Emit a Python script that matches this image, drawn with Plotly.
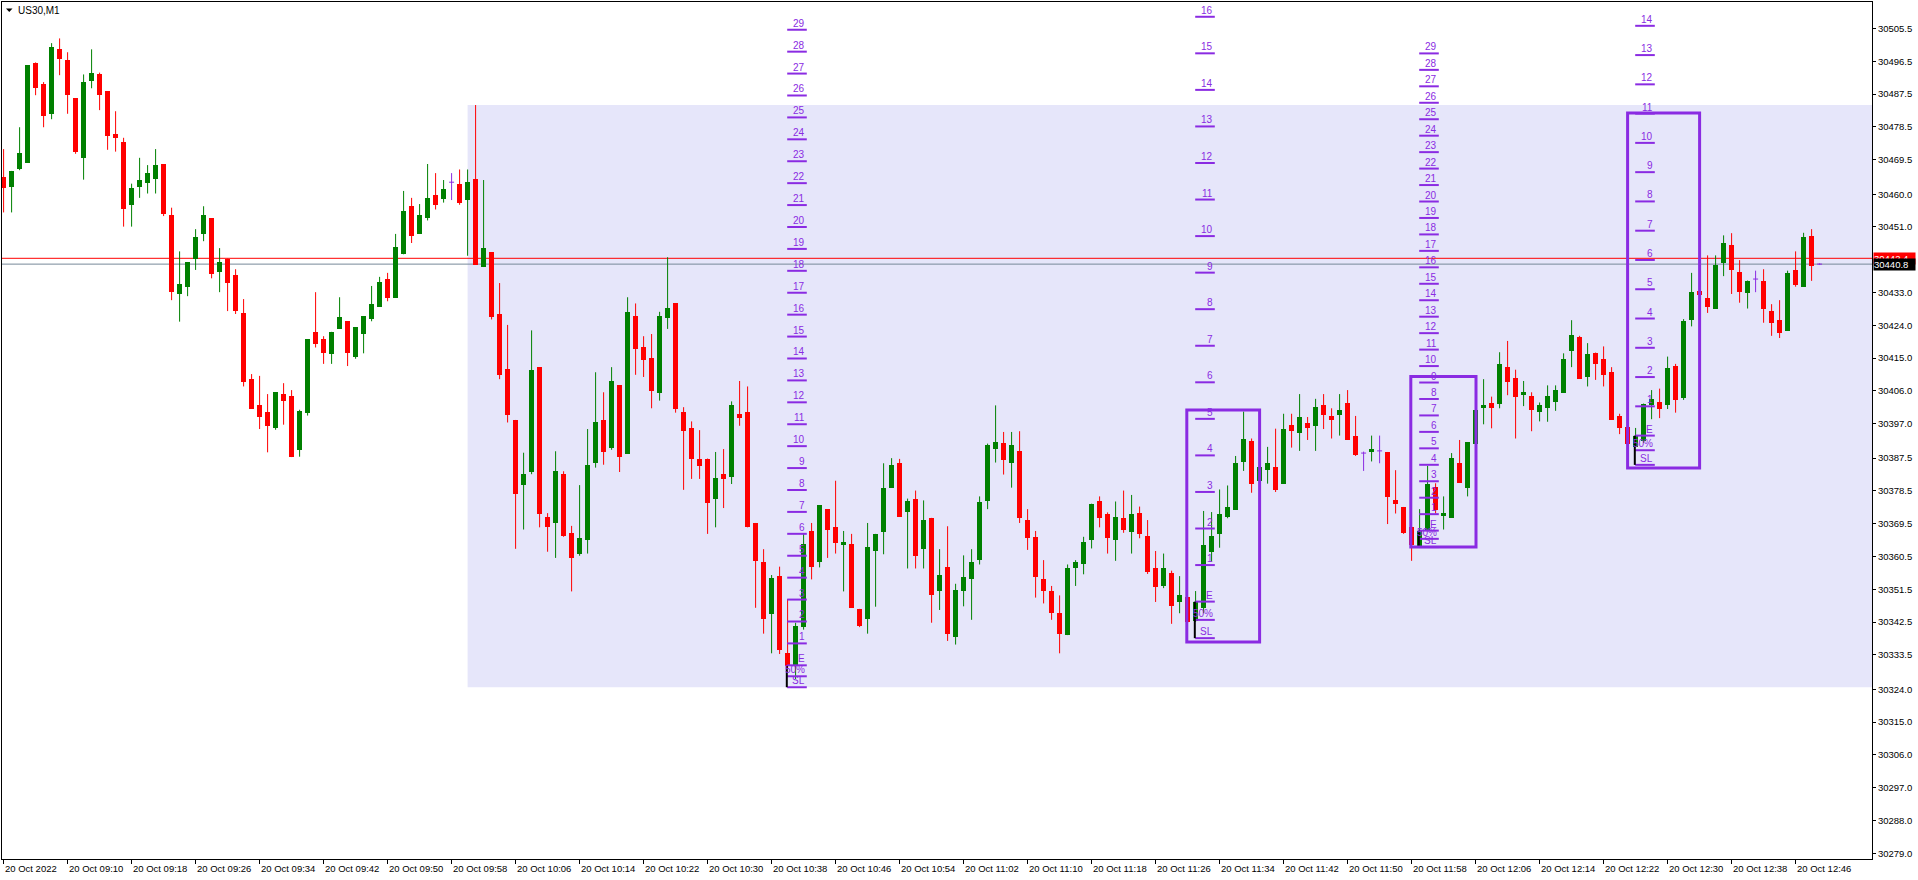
import pandas as pd
import plotly.graph_objects as go

# ---------------- data ----------------
T0 = pd.Timestamp("2022-10-20 09:02")

opens = [
30464.7, 30462.1, 30466.8, 30468.6, 30496.0, 30490.2, 30482.1, 30499.8, 30496.8, 30486.4,
30469.9, 30491.1, 30492.9, 30488.3, 30476.6, 30474.3, 30457.1, 30462.1, 30463.1, 30464.2,
30468.3, 30454.2, 30432.6, 30434.6, 30442.1, 30449.2, 30453.4, 30438.7, 30442.3, 30437.8,
30427.3, 30409.2, 30402.0, 30400.1, 30395.7, 30405.1, 30404.5, 30389.7, 30399.9, 30422.2,
30420.1, 30416.0, 30423.0, 30425.1, 30415.3, 30421.5, 30425.6, 30429.1, 30436.7, 30431.6,
30443.5, 30456.7, 30449.2, 30453.4, 30459.7, 30458.7, 30463.3, 30462.8, 30458.3, 30464.1,
30440.0, 30444.1, 30427.0, 30411.9, 30398.0, 30380.2, 30383.7, 30412.5, 30371.3, 30369.7,
30383.1, 30366.9, 30361.3, 30364.9, 30386.1, 30398.0, 30390.3, 30407.5, 30388.7, 30426.5,
30418.0, 30415.0, 30405.4, 30426.1, 30430.0, 30400.1, 30395.8, 30387.4, 30387.4, 30376.3,
30383.1, 30382.4, 30399.5, 30400.1, 30369.7, 30358.9, 30344.6, 30355.0, 30333.9, 30330.4,
30341.1, 30367.5, 30358.9, 30373.5, 30368.7, 30363.7, 30363.9, 30346.1, 30343.4, 30361.9,
30367.3, 30379.4, 30386.1, 30372.6, 30376.4, 30362.5, 30371.1, 30350.9, 30357.5, 30338.3,
30350.9, 30354.2, 30359.4, 30375.8, 30389.9, 30391.7, 30386.3, 30389.4, 30370.5, 30365.9,
30354.2, 30350.9, 30345.0, 30338.9, 30357.2, 30358.3, 30364.9, 30375.6, 30372.1, 30364.9,
30371.1, 30367.3, 30372.4, 30366.1, 30357.2, 30352.4, 30356.0, 30348.0, 30349.4, 30342.9,
30346.4, 30361.8, 30366.6, 30371.4, 30373.3, 30386.5, 30392.2, 30381.3, 30384.3, 30385.1,
30380.5, 30396.6, 30394.5, 30397.2, 30396.4, 30402.0, 30399.1, 30399.4, 30402.6, 30393.6,
30388.9, 30389.1, 30389.5, 30389.2, 30376.1, 30374.1, 30368.7, 30363.5, 30367.6, 30379.5,
30371.7, 30371.2, 30386.3, 30379.4, 30391.3, 30401.3, 30402.6, 30402.4, 30412.5, 30409.4,
30404.9, 30404.5, 30400.3, 30401.2, 30403.0, 30405.4, 30417.0, 30420.7, 30409.9, 30416.5,
30414.7, 30411.1, 30399.1, 30396.0, 30390.5, 30392.3, 30402.0, 30403.0, 30402.2, 30412.8,
30404.0, 30425.5, 30433.5, 30431.6, 30428.6, 30441.1, 30446.1, 30438.7, 30432.8, 30436.7,
30436.3, 30428.0, 30425.4, 30422.5, 30439.3, 30434.6, 30448.5, 30440.8]

highs = [
30472.4, 30466.4, 30478.4, 30495.4, 30496.2, 30490.8, 30501.5, 30502.8, 30499.0, 30486.4,
30492.9, 30499.8, 30493.4, 30488.3, 30482.8, 30475.5, 30462.9, 30470.0, 30468.0, 30472.4,
30468.3, 30456.3, 30444.3, 30441.3, 30450.4, 30456.7, 30453.4, 30445.2, 30442.3, 30439.4,
30431.2, 30410.6, 30410.1, 30405.1, 30405.6, 30408.1, 30406.2, 30400.8, 30420.1, 30433.1,
30421.0, 30422.2, 30431.7, 30425.1, 30423.5, 30426.5, 30434.8, 30437.3, 30438.4, 30449.1,
30460.9, 30459.0, 30457.3, 30468.3, 30465.8, 30463.9, 30465.8, 30466.8, 30466.8, 30484.5,
30463.9, 30444.1, 30435.6, 30424.1, 30398.0, 30389.0, 30422.6, 30412.5, 30372.4, 30389.4,
30383.9, 30368.9, 30380.1, 30395.5, 30411.1, 30405.6, 30412.5, 30407.5, 30431.7, 30430.0,
30421.0, 30421.6, 30427.7, 30442.7, 30430.0, 30401.5, 30397.6, 30395.2, 30387.4, 30389.2,
30390.0, 30403.1, 30408.7, 30407.2, 30369.7, 30362.5, 30355.4, 30357.7, 30348.8, 30342.3,
30366.8, 30369.7, 30374.6, 30373.5, 30381.3, 30367.5, 30366.7, 30346.1, 30369.7, 30366.7,
30386.1, 30387.5, 30387.3, 30376.4, 30378.6, 30375.9, 30371.1, 30362.5, 30368.8, 30353.0,
30360.8, 30362.5, 30377.0, 30391.5, 30402.0, 30394.7, 30394.7, 30394.9, 30373.5, 30367.5,
30359.5, 30352.4, 30349.8, 30358.3, 30359.5, 30365.9, 30375.0, 30377.0, 30372.6, 30375.6,
30378.6, 30377.4, 30374.2, 30370.5, 30362.0, 30361.3, 30356.6, 30355.1, 30349.4, 30351.0,
30373.0, 30372.7, 30378.9, 30380.0, 30388.1, 30400.3, 30392.9, 30386.0, 30390.6, 30395.6,
30399.7, 30399.7, 30405.1, 30398.8, 30403.8, 30405.1, 30401.2, 30405.1, 30406.2, 30399.1,
30389.3, 30393.7, 30393.7, 30389.2, 30384.2, 30374.1, 30368.7, 30373.5, 30385.4, 30380.6,
30377.0, 30388.9, 30392.5, 30391.9, 30400.8, 30409.2, 30404.4, 30416.6, 30419.7, 30411.8,
30408.7, 30405.6, 30402.8, 30407.5, 30407.5, 30416.3, 30425.4, 30421.1, 30419.1, 30416.5,
30418.2, 30412.5, 30399.7, 30396.0, 30395.8, 30402.5, 30406.2, 30406.6, 30415.4, 30413.4,
30425.7, 30438.4, 30433.8, 30443.2, 30443.2, 30448.7, 30449.3, 30441.9, 30436.3, 30439.0,
30439.4, 30429.8, 30430.9, 30439.0, 30444.3, 30449.4, 30450.4, 30441.0]

lows = [
30455.0, 30455.0, 30466.6, 30468.6, 30487.2, 30478.4, 30480.6, 30492.7, 30482.1, 30471.1,
30464.0, 30489.1, 30483.1, 30472.2, 30471.7, 30451.1, 30451.1, 30459.0, 30460.2, 30460.2,
30454.0, 30430.9, 30425.0, 30432.0, 30439.2, 30447.1, 30436.9, 30433.1, 30427.9, 30427.1,
30407.2, 30401.1, 30395.5, 30389.1, 30395.3, 30396.7, 30387.8, 30387.9, 30399.2, 30417.9,
30413.4, 30413.4, 30423.0, 30412.8, 30414.8, 30416.3, 30425.1, 30429.1, 30430.6, 30431.6,
30443.5, 30446.6, 30449.2, 30452.8, 30455.8, 30457.7, 30458.4, 30457.1, 30443.1, 30440.6,
30440.0, 30425.6, 30409.2, 30397.3, 30362.6, 30367.9, 30383.1, 30368.5, 30361.8, 30360.1,
30365.9, 30350.9, 30360.7, 30361.3, 30384.9, 30385.7, 30389.8, 30383.7, 30388.7, 30410.4,
30409.8, 30401.2, 30403.3, 30423.0, 30400.0, 30378.8, 30381.8, 30381.8, 30366.7, 30368.5,
30373.8, 30380.4, 30396.4, 30368.5, 30346.4, 30339.3, 30333.9, 30333.7, 30329.8, 30326.8,
30340.4, 30354.2, 30357.5, 30360.1, 30361.3, 30350.9, 30346.4, 30341.1, 30339.3, 30346.7,
30361.1, 30379.4, 30371.4, 30357.2, 30357.2, 30357.2, 30342.3, 30345.8, 30337.3, 30336.3,
30346.8, 30343.1, 30358.3, 30373.5, 30386.3, 30383.0, 30379.4, 30369.7, 30362.3, 30349.2,
30347.6, 30343.1, 30333.9, 30338.9, 30352.4, 30355.6, 30362.7, 30368.5, 30361.3, 30359.3,
30367.0, 30361.3, 30365.5, 30355.7, 30348.0, 30351.8, 30342.0, 30344.9, 30342.3, 30342.5,
30344.9, 30359.1, 30362.9, 30371.0, 30373.3, 30384.0, 30378.0, 30380.5, 30380.5, 30378.2,
30380.5, 30390.4, 30389.5, 30392.5, 30389.5, 30395.5, 30392.9, 30393.7, 30392.5, 30388.1,
30384.0, 30386.6, 30386.1, 30369.4, 30372.3, 30366.7, 30359.3, 30363.5, 30367.6, 30372.3,
30367.9, 30371.2, 30380.7, 30377.0, 30391.3, 30396.8, 30395.7, 30401.2, 30404.8, 30392.9,
30401.8, 30394.9, 30397.6, 30397.5, 30400.5, 30405.4, 30412.5, 30409.3, 30407.2, 30409.0,
30407.2, 30398.1, 30394.1, 30391.4, 30390.5, 30391.7, 30398.2, 30398.5, 30401.0, 30400.0,
30403.5, 30423.7, 30432.0, 30427.4, 30428.6, 30437.5, 30432.6, 30430.2, 30428.6, 30433.1,
30424.7, 30421.1, 30420.5, 30422.5, 30434.6, 30434.6, 30436.2, 30440.6]

closes = [
30461.6, 30466.4, 30471.2, 30495.4, 30489.1, 30481.6, 30500.4, 30497.1, 30487.3, 30471.7,
30490.8, 30493.3, 30487.3, 30476.1, 30475.4, 30456.0, 30461.7, 30463.9, 30465.8, 30468.0,
30454.7, 30433.2, 30435.3, 30441.3, 30448.3, 30454.2, 30438.1, 30441.3, 30435.7, 30428.0,
30408.5, 30401.1, 30398.9, 30396.3, 30405.6, 30403.1, 30387.8, 30400.4, 30420.1, 30418.9,
30416.3, 30422.2, 30426.2, 30416.3, 30423.5, 30426.5, 30429.8, 30435.9, 30431.5, 30445.5,
30455.4, 30448.6, 30454.2, 30459.0, 30457.1, 30461.4, 30463.3, 30457.7, 30463.3, 30440.6,
30445.2, 30426.3, 30410.4, 30399.4, 30377.7, 30383.1, 30411.7, 30372.3, 30368.5, 30383.9,
30366.1, 30360.1, 30365.6, 30385.6, 30397.4, 30389.3, 30408.7, 30387.9, 30427.6, 30417.5,
30414.5, 30406.0, 30426.5, 30428.7, 30401.0, 30395.0, 30387.4, 30385.4, 30375.2, 30382.0,
30381.8, 30402.0, 30398.6, 30368.5, 30359.3, 30343.4, 30354.5, 30334.9, 30330.4, 30341.3,
30364.0, 30357.5, 30374.6, 30367.9, 30364.3, 30364.5, 30346.4, 30341.3, 30363.1, 30366.7,
30379.2, 30385.7, 30371.4, 30375.6, 30360.5, 30370.5, 30349.8, 30355.4, 30339.3, 30351.2,
30354.8, 30358.9, 30375.4, 30391.1, 30391.9, 30386.9, 30391.1, 30371.2, 30365.5, 30354.8,
30351.1, 30345.1, 30339.3, 30357.2, 30358.9, 30364.4, 30375.0, 30371.1, 30365.7, 30371.4,
30367.9, 30372.1, 30366.7, 30356.3, 30352.0, 30357.2, 30346.8, 30349.8, 30342.5, 30347.9,
30363.6, 30366.1, 30372.1, 30374.1, 30386.1, 30392.8, 30380.5, 30385.1, 30386.2, 30378.8,
30395.6, 30395.0, 30398.8, 30395.8, 30401.6, 30399.4, 30398.1, 30400.7, 30392.5, 30388.5,
30388.9, 30390.1, 30389.5, 30376.8, 30375.0, 30367.0, 30363.7, 30367.5, 30380.4, 30373.2,
30372.4, 30387.5, 30380.7, 30391.9, 30400.8, 30402.0, 30401.2, 30413.5, 30408.5, 30404.4,
30405.6, 30400.8, 30402.0, 30404.5, 30406.2, 30414.7, 30421.3, 30409.3, 30416.1, 30413.5,
30410.4, 30398.1, 30395.7, 30391.4, 30393.5, 30402.5, 30403.8, 30401.1, 30412.3, 30403.6,
30425.1, 30433.2, 30432.3, 30429.1, 30440.6, 30446.7, 30439.3, 30433.2, 30436.3, 30436.7,
30428.6, 30424.7, 30422.0, 30438.4, 30435.1, 30448.2, 30440.4, 30440.8]

# right price-axis labels
ytick_vals = [30505.5, 30496.5, 30487.5, 30478.5, 30469.5, 30460.0, 30451.0, 30433.0,
              30424.0, 30415.0, 30406.0, 30397.0, 30387.5, 30378.5, 30369.5, 30360.5,
              30351.5, 30342.5, 30333.5, 30324.0, 30315.0, 30306.0, 30297.0, 30288.0, 30279.0]
ytick_text = ["%.1f" % v for v in ytick_vals]

# time-axis labels (every 8 minutes)
xtick_minutes = list(range(0, 225, 8))
xtick_text = ["20 Oct 2022"] + ["20 Oct " + (T0 + pd.Timedelta(minutes=m)).strftime("%H:%M")
                                for m in xtick_minutes[1:]]

ask_price = 30442.4
bid_price = 30440.8

# lavender zone: start bar, low, high
zone_start_bar = 58
zone_low, zone_high = 30324.6, 30484.5

# risk/reward ladders: start bar, entry, risk step, number of levels
ladder_bars = [98, 149, 177, 204]
ladder_entry = [30330.6, 30348.1, 30367.6, 30393.7]
ladder_risk = [6.02, 10.04, 4.52, 8.04]
ladder_levels = [29, 16, 29, 14]

# purple boxes: start bar, end bar, low, high
box_x0 = [147.9, 175.9, 203.0]
box_x1 = [157.0, 184.05, 212.0]
box_low = [30337.0, 30363.1, 30384.8]
box_high = [30400.7, 30409.9, 30482.3]

# ---------------- figure ----------------
GREEN = "#008000"
RED = "#FF0000"
PURP = "#8A2BE2"
FONT = "Liberation Sans"

W, H = 1918, 880
ML, MR, MT, MB = 2, 46, 2, 21
PW, PH = W - ML - MR, H - MT - MB


def tm(m):
    return T0 + pd.Timedelta(minutes=m)


def px_x(px):
    return (px - ML) / PW


def px_y(py):
    return 1 - (py - MT) / PH


n = len(opens)
times = [tm(i) for i in range(n)]
up = [i for i in range(n) if closes[i] > opens[i]]
dn = [i for i in range(n) if closes[i] < opens[i]]
dj = [i for i in range(n) if closes[i] == opens[i]]

fig = go.Figure()


def wicks(idx, color):
    xs, ys = [], []
    for i in idx:
        xs += [times[i], times[i], None]
        ys += [lows[i], highs[i], None]
    fig.add_trace(go.Scatter(x=xs, y=ys, mode="lines", line=dict(color=color, width=1),
                             hoverinfo="skip", showlegend=False))


def bodies(idx, color):
    fig.add_trace(go.Bar(
        x=[times[i] for i in idx],
        y=[max(abs(closes[i] - opens[i]), 0.3) for i in idx],
        base=[min(opens[i], closes[i]) for i in idx],
        width=37500, marker=dict(color=color, line=dict(width=0)),
        hoverinfo="skip", showlegend=False))


wicks(up, GREEN)
wicks(dn, RED)
bodies(up, GREEN)
bodies(dn, RED)

# doji crosses
xs, ys = [], []
for i in dj:
    xs += [times[i], times[i], None, tm(i - 0.3125), tm(i + 0.3125), None]
    ys += [lows[i], highs[i], None, opens[i], opens[i], None]
fig.add_trace(go.Scatter(x=xs, y=ys, mode="lines", line=dict(color=PURP, width=1),
                         hoverinfo="skip", showlegend=False))

shapes = []
annotations = []

# lavender zone
shapes.append(dict(type="rect", xref="x", yref="y", x0=tm(zone_start_bar), x1=tm(260),
                   y0=zone_low, y1=zone_high, fillcolor="#E6E6FA", line=dict(width=0),
                   layer="below"))
# ask / bid lines (drawn over the zone, under the candles)
shapes.append(dict(type="line", xref="x", yref="y", x0=tm(-5), x1=tm(260), y0=ask_price, y1=ask_price,
                   line=dict(color=RED, width=1), layer="below"))
shapes.append(dict(type="line", xref="x", yref="y", x0=tm(-5), x1=tm(260), y0=bid_price, y1=bid_price,
                   line=dict(color="#778899", width=1), layer="below"))

# ladders
for k, e, r, nl in zip(ladder_bars, ladder_entry, ladder_risk, ladder_levels):
    levels = [("SL", e - r), ("50%", e - r / 2), ("E", e)] + [(str(j), e + j * r) for j in range(1, nl + 1)]
    for lab, p in levels:
        shapes.append(dict(type="line", xref="x", yref="y", x0=tm(k - 0.05), x1=tm(k + 2.4),
                           y0=p, y1=p, line=dict(color=PURP, width=2), layer="above"))
        annotations.append(dict(x=tm(k + 2.4), y=p, xref="x", yref="y", text=lab, showarrow=False,
                                xanchor="right", yanchor="bottom", xshift=-1, yshift=0, borderpad=0,
                                font=dict(family=FONT, size=10, color=PURP)))
    shapes.append(dict(type="line", xref="x", yref="y", x0=tm(k - 0.1), x1=tm(k - 0.1),
                       y0=e - r, y1=e, line=dict(color="black", width=2), layer="above"))

# purple boxes
for a, b, lo, hi in zip(box_x0, box_x1, box_low, box_high):
    shapes.append(dict(type="rect", xref="x", yref="y", x0=tm(a), x1=tm(b), y0=lo, y1=hi,
                       line=dict(color=PURP, width=3), fillcolor="rgba(0,0,0,0)", layer="above"))

# time labels (left-aligned at tick)
for m, txt in zip(xtick_minutes, xtick_text):
    annotations.append(dict(x=tm(m), y=0, xref="x", yref="paper", text=txt, showarrow=False,
                            xanchor="left", yanchor="top", xshift=0, yshift=-3, borderpad=0,
                            font=dict(family=FONT, size=9.5, color="black")))

# current price boxes
annotations.append(dict(x=1, y=ask_price, xref="paper", yref="y", text="%.1f" % ask_price,
                        showarrow=False, xanchor="left", yanchor="middle", xshift=1,
                        bgcolor=RED, borderpad=0, width=41, height=11, align="left",
                        font=dict(family=FONT, size=9.5, color="white")))
annotations.append(dict(x=1, y=bid_price, xref="paper", yref="y", text="%.1f" % bid_price,
                        showarrow=False, xanchor="left", yanchor="middle", xshift=1,
                        bgcolor="black", borderpad=0, width=41, height=11, align="left",
                        font=dict(family=FONT, size=9.5, color="white")))

# title
annotations.append(dict(x=px_x(17), y=px_y(10.5), xref="paper", yref="paper", text="US30,M1",
                        showarrow=False, xanchor="left", yanchor="middle", borderpad=0,
                        font=dict(family=FONT, size=10, color="black")))
tx0, tx1, tx2, ty0, ty1 = px_x(6), px_x(12.5), px_x(9.25), px_y(8.5), px_y(12)
shapes.append(dict(type="path", xref="paper", yref="paper",
                   path=f"M {tx0} {ty0} L {tx1} {ty0} L {tx2} {ty1} Z",
                   fillcolor="black", line=dict(width=0), layer="above"))

fig.update_layout(
    width=W, height=H, margin=dict(l=ML, r=MR, t=MT, b=MB),
    paper_bgcolor="white", plot_bgcolor="white",
    barmode="overlay", bargap=0, showlegend=False, hovermode=False,
    shapes=shapes, annotations=annotations,
    xaxis=dict(type="date", range=[tm(-0.2), tm(233.55)], showgrid=False, zeroline=False,
               showline=True, linecolor="black", linewidth=1, mirror=True,
               ticks="outside", ticklen=4, tickcolor="black",
               tickvals=[tm(m) for m in xtick_minutes], showticklabels=False),
    yaxis=dict(range=[30277.4, 30512.8], side="right", showgrid=False, zeroline=False,
               showline=True, linecolor="black", linewidth=1, mirror=True,
               ticks="outside", ticklen=3, tickcolor="black",
               tickvals=ytick_vals, ticktext=ytick_text,
               tickfont=dict(family=FONT, size=9.5, color="black")),
)

fig.write_html("out.html", config={"displayModeBar": False},
               post_script="document.body.style.margin='0';document.body.style.overflow='hidden';")
